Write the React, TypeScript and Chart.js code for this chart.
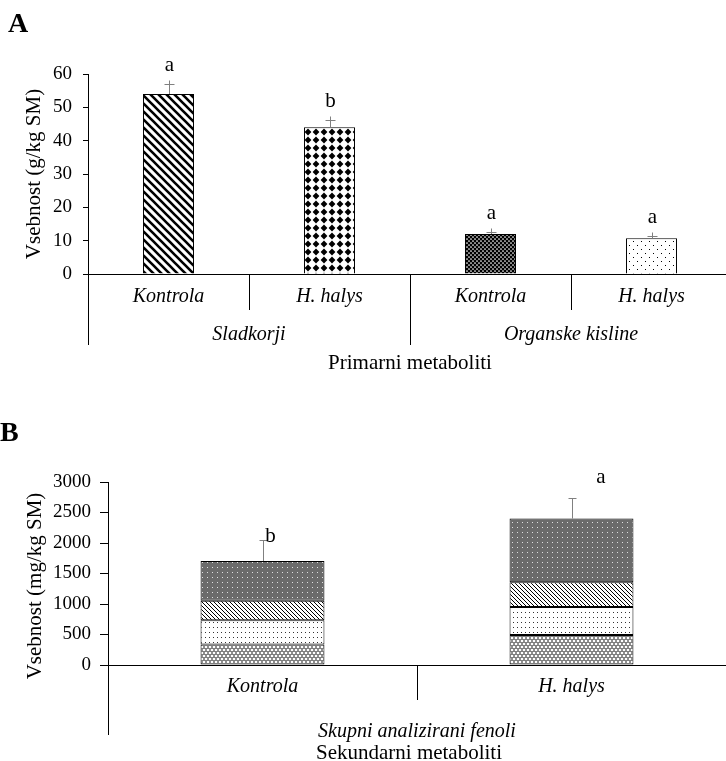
import React, { useEffect, useRef } from 'react';
import { Chart, registerables } from 'chart.js';

Chart.register(...registerables);

const SERIF = "'Liberation Serif', 'Times New Roman', serif";

// ---------- Panel A data ----------
const aCategories = ['Kontrola', 'H. halys', 'Kontrola', 'H. halys'];
const aGroups = ['Sladkorji', 'Organske kisline'];
const aValues = [54, 44, 12, 10.7];
const aErrors = [3, 2.2, 0.7, 0.7];
const aLetters = ['a', 'b', 'a', 'a'];
const aYMax = 60;
const aYStep = 10;
const aYTitle = 'Vsebnost (g/kg SM)';
const aXTitle = 'Primarni metaboliti';

// ---------- Panel B data ----------
const bCategories = ['Kontrola', 'H. halys'];
const bGroup = 'Skupni analizirani fenoli';
const bSeg1 = [335, 490];
const bSeg2 = [400, 460];
const bSeg3 = [320, 405];
const bSeg4 = [650, 1045];
const bErrors = [340, 330];
const bLetters = ['b', 'a'];
const bYMax = 3000;
const bYStep = 500;
const bYTitle = 'Vsebnost (mg/kg SM)';
const bXTitle = 'Sekundarni metaboliti';

// layout constants (not data)
const bLetterDx = [7, 28.5];
const bLetterDy = [1, -16];

function makePattern(w: number, h: number, draw: (g: CanvasRenderingContext2D, w: number, h: number) => void) {
  const c = document.createElement('canvas');
  c.width = w;
  c.height = h;
  const g = c.getContext('2d')!;
  draw(g, w, h);
  return g.createPattern(c, 'repeat')!;
}

function diagWide() {
  return makePattern(8, 8, (g, w, h) => {
    g.fillStyle = '#fff';
    g.fillRect(0, 0, w, h);
    g.strokeStyle = '#000';
    g.lineWidth = 2.6;
    g.beginPath();
    for (const o of [-8, 0, 8]) {
      g.moveTo(o - 1, -1);
      g.lineTo(o + 9, 9);
    }
    g.stroke();
  });
}
function diamonds() {
  return makePattern(8, 8, (g, w, h) => {
    g.fillStyle = '#fff';
    g.fillRect(0, 0, w, h);
    g.fillStyle = '#000';
    g.beginPath();
    g.moveTo(4, 0.6);
    g.lineTo(7.4, 4);
    g.lineTo(4, 7.4);
    g.lineTo(0.6, 4);
    g.closePath();
    g.fill();
  });
}
function denseDots() {
  return makePattern(4, 4, (g, w, h) => {
    g.fillStyle = '#000';
    g.fillRect(0, 0, w, h);
    g.fillStyle = '#fff';
    for (const [cx, cy] of [[1, 1], [3, 3]]) {
      g.beginPath();
      g.arc(cx, cy, 0.85, 0, Math.PI * 2);
      g.fill();
    }
  });
}
function sparseDots() {
  return makePattern(8, 8, (g, w, h) => {
    g.fillStyle = '#fff';
    g.fillRect(0, 0, w, h);
    g.fillStyle = '#000';
    g.fillRect(1, 1, 1, 1);
    g.fillRect(5, 5, 1, 1);
  });
}
function weave() {
  return makePattern(8, 6, (g, w, h) => {
    g.fillStyle = '#fff';
    g.fillRect(0, 0, w, h);
    g.strokeStyle = '#000';
    g.lineWidth = 1;
    g.beginPath();
    for (const y0 of [0, 3]) {
      const s = y0 === 0 ? 0 : 2;
      g.moveTo(-4 + s, y0 + 2.5);
      for (let k = 0; k < 8; k++) {
        const xx = -4 + s + (k + 1) * 2;
        g.lineTo(xx, y0 + (k % 2 === 0 ? 0.5 : 2.5));
      }
    }
    g.stroke();
  });
}
function smallDots() {
  return makePattern(4, 5, (g, w, h) => {
    g.fillStyle = '#fff';
    g.fillRect(0, 0, w, h);
    g.fillStyle = '#333';
    g.fillRect(1, 2, 1, 1);
  });
}
function diagThin() {
  return makePattern(4, 4, (g, w, h) => {
    g.fillStyle = '#fff';
    g.fillRect(0, 0, w, h);
    g.strokeStyle = '#000';
    g.lineWidth = 1;
    g.beginPath();
    for (const o of [-4, 0, 4]) {
      g.moveTo(o - 1, -1);
      g.lineTo(o + 5, 5);
    }
    g.stroke();
  });
}
function grayDots() {
  return makePattern(5, 5, (g, w, h) => {
    g.fillStyle = '#6b6b6b';
    g.fillRect(0, 0, w, h);
    g.fillStyle = '#e0e0e0';
    g.fillRect(2, 2, 1, 1);
  });
}

const line = (ctx: CanvasRenderingContext2D, x1: number, y1: number, x2: number, y2: number) => {
  ctx.beginPath();
  ctx.moveTo(x1, y1);
  ctx.lineTo(x2, y2);
  ctx.stroke();
};

const panelAPlugin = {
  id: 'panelA',
  afterDraw(chart: any) {
    const { ctx, chartArea: ca, scales } = chart;
    const x = scales.x;
    const y = scales.y;
    ctx.save();
    ctx.strokeStyle = '#808080';
    ctx.lineWidth = 1;
    aValues.forEach((v, i) => {
      const px = Math.round(x.getPixelForValue(i)) + 0.5;
      const yTop = y.getPixelForValue(v);
      const yErr = Math.round(y.getPixelForValue(v + aErrors[i])) + 0.5;
      line(ctx, px, yTop, px, yErr - 4);
      line(ctx, px - 5, yErr, px + 5, yErr);
      ctx.fillStyle = '#000';
      ctx.font = `21px ${SERIF}`;
      ctx.textAlign = 'center';
      ctx.textBaseline = 'alphabetic';
      ctx.fillText(aLetters[i], px, yErr - 14);
    });
    ctx.strokeStyle = '#000';
    ctx.lineWidth = 1;
    const b = ca.bottom;
    const mid = (i: number) => Math.round((x.getPixelForValue(i) + x.getPixelForValue(i + 1)) / 2) + 0.5;
    line(ctx, mid(0), b, mid(0), b + 36);
    line(ctx, mid(2), b, mid(2), b + 36);
    line(ctx, Math.round(ca.left) + 0.5, b, Math.round(ca.left) + 0.5, b + 71);
    line(ctx, mid(1), b, mid(1), b + 71);
    ctx.fillStyle = '#000';
    ctx.textAlign = 'center';
    ctx.textBaseline = 'alphabetic';
    ctx.font = `italic 20px ${SERIF}`;
    aGroups.forEach((g, gi) => {
      const cx = (x.getPixelForValue(gi * 2) + x.getPixelForValue(gi * 2 + 1)) / 2;
      ctx.fillText(g, cx, b + 66);
    });
    ctx.font = `21px ${SERIF}`;
    ctx.fillText(aXTitle, (ca.left + ca.right) / 2, b + 95);
    ctx.save();
    ctx.translate(34, (ca.top + ca.bottom) / 2);
    ctx.rotate(-Math.PI / 2);
    ctx.textBaseline = 'middle';
    ctx.fillText(aYTitle, 0, 0);
    ctx.restore();
    ctx.font = `bold 28px ${SERIF}`;
    ctx.textAlign = 'left';
    ctx.fillText('A', 8, 32);
    ctx.restore();
  },
};

const panelBPlugin = {
  id: 'panelB',
  afterDraw(chart: any) {
    const { ctx, chartArea: ca, scales } = chart;
    const x = scales.x;
    const y = scales.y;
    ctx.save();
    ctx.strokeStyle = '#808080';
    ctx.lineWidth = 1;
    bCategories.forEach((_, i) => {
      const total = bSeg1[i] + bSeg2[i] + bSeg3[i] + bSeg4[i];
      const px = Math.round(x.getPixelForValue(i)) + 0.5;
      const yTop = y.getPixelForValue(total);
      const yErr = Math.round(y.getPixelForValue(total + bErrors[i])) + 0.5;
      line(ctx, px, yTop, px, yErr);
      line(ctx, px - 4, yErr, px + 4, yErr);
      ctx.fillStyle = '#000';
      ctx.font = `21px ${SERIF}`;
      ctx.textAlign = 'center';
      ctx.textBaseline = 'alphabetic';
      ctx.fillText(bLetters[i], px + bLetterDx[i], yErr + bLetterDy[i]);
    });
    ctx.strokeStyle = '#000';
    const b = ca.bottom;
    const mid = Math.round((x.getPixelForValue(0) + x.getPixelForValue(1)) / 2) + 0.5;
    line(ctx, mid, b, mid, b + 35);
    line(ctx, Math.round(ca.left) + 0.5, b, Math.round(ca.left) + 0.5, b + 70);
    ctx.fillStyle = '#000';
    ctx.textAlign = 'center';
    ctx.textBaseline = 'alphabetic';
    ctx.font = `italic 20px ${SERIF}`;
    ctx.fillText(bGroup, (ca.left + ca.right) / 2, b + 72);
    ctx.font = `21px ${SERIF}`;
    ctx.fillText(bXTitle, (ca.left + ca.right) / 2 - 8, b + 94);
    ctx.save();
    ctx.translate(35, (ca.top + ca.bottom) / 2 + 12.5);
    ctx.rotate(-Math.PI / 2);
    ctx.textBaseline = 'middle';
    ctx.fillText(bYTitle, 0, 0);
    ctx.restore();
    ctx.font = `bold 28px ${SERIF}`;
    ctx.textAlign = 'left';
    ctx.fillText('B', 0, 61);
    ctx.restore();
  },
};

function yScale(max: number, step: number, width: number, tickLen: number, pad: number) {
  return {
    min: 0,
    max,
    afterFit: (s: any) => {
      s.width = width;
    },
    ticks: {
      stepSize: step,
      color: '#000',
      font: { family: SERIF, size: 19 },
      padding: pad,
      callback: (v: any) => String(v),
    },
    grid: { drawOnChartArea: false, drawTicks: true, tickLength: tickLen, color: '#000' },
    border: { display: true, color: '#000', width: 1 },
  };
}

export default function App() {
  const aRef = useRef<HTMLCanvasElement>(null);
  const bRef = useRef<HTMLCanvasElement>(null);

  useEffect(() => {
    const charts: Chart[] = [];
    if (aRef.current) {
      charts.push(
        new Chart(aRef.current, {
          type: 'bar',
          data: {
            labels: aCategories,
            datasets: [
              {
                data: aValues,
                backgroundColor: [diagWide(), diamonds(), denseDots(), sparseDots()] as any,
                borderColor: '#000',
                borderWidth: 1,
                barPercentage: 0.317,
                categoryPercentage: 1,
              },
            ],
          },
          options: {
            responsive: false,
            animation: false,
            devicePixelRatio: 1,
            layout: { padding: { top: 74, left: 0, right: 0, bottom: 0 } },
            plugins: { legend: { display: false }, tooltip: { enabled: false } },
            scales: {
              x: {
                afterFit: (s: any) => {
                  s.height = 106;
                },
                ticks: { color: '#000', font: { family: SERIF, size: 20, style: 'italic' }, padding: 11, maxRotation: 0, autoSkip: false },
                grid: { display: false, drawTicks: false },
                border: { display: true, color: '#000', width: 1 },
              },
              y: yScale(aYMax, aYStep, 88, 5, 11) as any,
            },
          },
          plugins: [panelAPlugin],
        })
      );
    }
    if (bRef.current) {
      const common = { borderColor: '#000', borderWidth: 1, borderSkipped: false, barPercentage: 0.401, categoryPercentage: 1, stack: 's' };
      charts.push(
        new Chart(bRef.current, {
          type: 'bar',
          data: {
            labels: bCategories,
            datasets: [
              { data: bSeg1, backgroundColor: weave() as any, ...common },
              { data: bSeg2, backgroundColor: smallDots() as any, ...common },
              { data: bSeg3, backgroundColor: diagThin() as any, ...common },
              { data: bSeg4, backgroundColor: grayDots() as any, ...common },
            ] as any,
          },
          options: {
            responsive: false,
            animation: false,
            devicePixelRatio: 1,
            layout: { padding: { top: 102, left: 0, right: 0, bottom: 0 } },
            plugins: { legend: { display: false }, tooltip: { enabled: false } },
            scales: {
              x: {
                stacked: true,
                afterFit: (s: any) => {
                  s.height = 96;
                },
                ticks: { color: '#000', font: { family: SERIF, size: 20, style: 'italic' }, padding: 10, maxRotation: 0, autoSkip: false },
                grid: { display: false, drawTicks: false },
                border: { display: true, color: '#000', width: 1 },
              },
              y: { ...(yScale(bYMax, bYStep, 108, 8, 9) as any), stacked: true },
            },
          },
          plugins: [panelBPlugin],
        })
      );
    }
    return () => charts.forEach((c) => c.destroy());
  }, []);

  return (
    <div style={{ position: 'absolute', left: 0, top: 0, width: 726, height: 761, overflow: 'hidden', background: '#fff' }}>
      <canvas ref={aRef} width={732} height={380} style={{ position: 'absolute', left: 0, top: 0, width: 732, height: 380 }} />
      <canvas ref={bRef} width={726} height={381} style={{ position: 'absolute', left: 0, top: 380, width: 726, height: 381 }} />
    </div>
  );
}
